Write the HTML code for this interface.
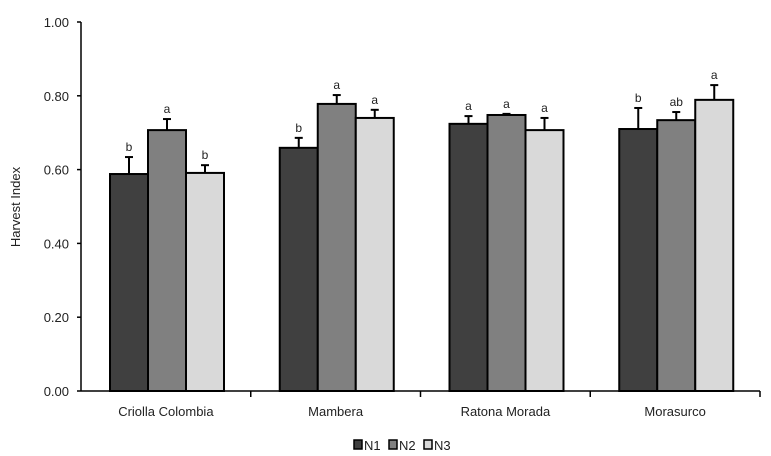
<!DOCTYPE html>
<html><head><meta charset="utf-8"><style>
body{margin:0;background:#fff;}
svg{display:block;font-family:"Liberation Sans",Arial,sans-serif;}
</style></head><body>
<svg id="chart" width="771" height="456"></svg>
<script>
const categories=["Criolla Colombia","Mambera","Ratona Morada","Morasurco"];
const series=["N1","N2","N3"];
const n1=[0.588,0.659,0.724,0.710];
const n2=[0.707,0.778,0.748,0.734];
const n3=[0.591,0.740,0.707,0.789];
const e1=[0.046,0.027,0.021,0.057];
const e2=[0.030,0.024,0.003,0.022];
const e3=[0.021,0.022,0.033,0.040];
const l1=["b","b","a","b"];
const l2=["a","a","a","ab"];
const l3=["b","a","a","a"];
const yTicks=[0,0.2,0.4,0.6,0.8,1.0];
const colors=["#404040","#808080","#d9d9d9"];
const NS="http://www.w3.org/2000/svg";
const svg=document.getElementById('chart');
const X0=81,X1=760,Y0=391,Y1=22;
const y=v=>Y0-(Y0-Y1)*v;
const gw=(X1-X0)/categories.length;
const bw=38;
const x=(g,s)=>X0+g*gw+29+s*bw;
function mk(t,a,p){const e=document.createElementNS(NS,t);for(const k in a)e.setAttribute(k,a[k]);(p||svg).appendChild(e);return e;}
const ya=mk('line',{x1:X0,y1:Y1,x2:X0,y2:Y0,stroke:'#000','stroke-width':1.5});


yTicks.forEach(v=>{
 mk('line',{x1:X0-4,y1:y(v),x2:X0,y2:y(v),stroke:'#000','stroke-width':1.5});
 const t=mk('text',{x:X0-12,y:y(v)+5,'text-anchor':'end','font-size':13,fill:'#222'});
 t.textContent=v.toFixed(2);
 
 
});
const yt=mk('text',{x:20,y:207,'text-anchor':'middle','font-size':13,transform:'rotate(-90 20 207)',fill:'#222'});
yt.textContent='Harvest Index';


const vals=[n1,n2,n3],errs=[e1,e2,e3],lets=[l1,l2,l3];
categories.forEach((c,g)=>{
 series.forEach((s,si)=>{
  const v=vals[si][g],e=errs[si][g],bx=x(g,si);
  const top=v+e;
  const el=mk('line',{x1:bx+bw/2,y1:y(top),x2:bx+bw/2,y2:y(v),stroke:'#000','stroke-width':2});
  
  
  mk('line',{x1:bx+bw/2-4,y1:y(top),x2:bx+bw/2+4,y2:y(top),stroke:'#000','stroke-width':2});
  const r=mk('rect',{x:bx,y:y(v),width:bw,height:Y0-y(v),fill:colors[si],stroke:'#000','stroke-width':2});
  
  
  const lt=mk('text',{x:bx+bw/2,y:y(top)-6,'text-anchor':'middle','font-size':12,fill:'#222'});
  lt.textContent=lets[si][g];
  
  
 });
 const cl=mk('text',{x:X0+g*gw+gw/2,y:416,'text-anchor':'middle','font-size':13,fill:'#222'});
 cl.textContent=c;
 
 
});
const xa=mk('line',{x1:X0,y1:Y0,x2:X1,y2:Y0,stroke:'#000','stroke-width':1.5});


for(let i=1;i<=categories.length;i++)mk('line',{x1:X0+i*gw,y1:Y0,x2:X0+i*gw,y2:Y0+6,stroke:'#000','stroke-width':1.5});
const lg=mk('g',{});


series.forEach((s,i)=>{
 const lx=354+i*35;
 const r=mk('rect',{x:lx,y:440,width:8,height:9,fill:colors[i],stroke:'#000','stroke-width':1.5},lg);
 
 
 const t=mk('text',{x:lx+10,y:450,'font-size':13,fill:'#222'},lg);
 t.textContent=s;
 
 
});
</script>
</body></html>
